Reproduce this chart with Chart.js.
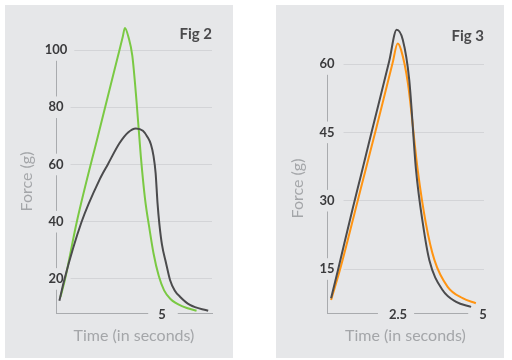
<!DOCTYPE html>
<html><head><meta charset="utf-8">
<script src="https://cdn.jsdelivr.net/npm/chart.js@4.4.1/dist/chart.umd.min.js"></script>
<style>
html,body{margin:0;padding:0;background:#fff;width:512px;height:360px;overflow:hidden;}
.panel{position:absolute;top:5px;width:228px;height:353px;background:#e6e7e9;}
#p1{left:5px}#p2{left:276px}
canvas{display:block;width:228px;height:353px;}
</style></head><body>
<div class="panel" id="p1"><canvas id="c1" width="228" height="353"></canvas></div>
<div class="panel" id="p2"><canvas id="c2" width="228" height="353"></canvas></div>
<script>
// ---- Fig 2 data ----
const fig2Title = 'Fig 2';
const fig2YTicks = [20, 40, 60, 80, 100];
const fig2XTicks = [5];
const fig2GreenTime  = [0.21, 0.42, 0.98, 2.0, 2.9, 3.15, 3.25, 3.42, 3.6, 3.8, 4.0, 4.2, 4.4, 4.6, 4.85, 5.1, 5.4, 6.0, 6.63];
const fig2GreenForce = [13.7, 19.7, 39.9, 70.6, 97.2, 104.6, 107.7, 104.5, 98, 82, 63, 48, 38, 29, 21, 16, 13, 10.3, 8.9];
const fig2DarkTime  = [0.16, 0.39, 1.2, 2.05, 2.45, 3.0, 3.4, 3.77, 4.1, 4.3, 4.48, 4.6, 4.7, 4.79, 4.88, 5.0, 5.19, 5.38, 5.6, 5.85, 6.32, 7.18];
const fig2DarkForce = [12.4, 19.65, 39.8, 54.6, 60.1, 67.5, 71.2, 72.6, 71.8, 69.8, 67, 63, 57, 46.5, 39, 32, 25.6, 19.65, 16, 13.8, 10.9, 8.9];

// ---- Fig 3 data ----
const fig3Title = 'Fig 3';
const fig3YTicks = [15, 30, 45, 60];
const fig3XTicks = [2.5, 5];
const fig3DarkTime  = [0.53, 0.73, 1.17, 1.41, 1.71, 2.24, 2.46, 2.64, 2.83, 3.03, 3.23, 3.42, 3.81, 4.21, 4.65];
const fig3DarkForce = [8.57, 14.7, 28.4, 35.6, 44.7, 60.6, 67.5, 65.3, 56.5, 36.7, 25.0, 17.0, 10.4, 7.8, 6.7];
const fig3OrangeTime  = [0.53, 0.82, 1.31, 1.56, 1.85, 2.34, 2.49, 2.59, 2.79, 3.08, 3.32, 3.57, 3.96, 4.40, 4.79];
const fig3OrangeForce = [8.2, 15.6, 29.9, 37.2, 45.6, 60.2, 64.5, 63.1, 55.8, 36.7, 25.0, 17.0, 11.1, 8.6, 7.5];

const xTitle = 'Time (in seconds)';
const yTitle = 'Force (g)';

const BG = '#e6e7e9';
const FONT = 'Lato';
const tickFont = {family: FONT, size: 13, weight: 'bold'};

function measure(strs, font) {
  const c = document.createElement('canvas').getContext('2d');
  c.font = 'bold ' + font.size + 'px ' + font.family;
  return Math.max(...strs.map(s => c.measureText(String(s)).width));
}
function pts(ts, fs) { return ts.map((t, i) => ({x: t, y: fs[i]})); }

function makeChart(id, cfg) {
  const widest = measure(cfg.yTicks, tickFont);
  return new Chart(document.getElementById(id), {
    type: 'line',
    data: {
      datasets: cfg.series.map(s => ({
        data: pts(s.t, s.f),
        borderColor: s.color,
        borderWidth: 2,
        pointRadius: 0,
        fill: false,
        clip: false,
        cubicInterpolationMode: 'monotone'
      }))
    },
    options: {
      responsive: false,
      animation: false,
      devicePixelRatio: 1,
      layout: {padding: {left: 0, right: cfg.padRight, top: 0, bottom: 0}},
      plugins: {
        legend: {display: false},
        tooltip: {enabled: false},
        title: {
          display: true, text: cfg.title, align: 'end', color: '#4a4a4c',
          font: {family: FONT, size: 15, weight: 'bold'},
          padding: {top: cfg.titleTop, bottom: cfg.titleBottom}
        }
      },
      scales: {
        x: {
          type: 'linear', min: cfg.xMin, max: cfg.xMax,
          grid: {display: false, drawTicks: false},
          border: {display: true, color: '#a9abae', width: 1},
          afterBuildTicks: s => { s.ticks = cfg.xTicks.map(v => ({value: v})); },
          afterFit: s => { s.height = 45; },
          ticks: {
            font: tickFont, color: '#3a3a3c', mirror: true, padding: -9.8,
            maxRotation: 0, autoSkip: false,
            showLabelBackdrop: true, backdropColor: BG,
            backdropPadding: cfg.xBackdrop
          },
          title: {
            display: true, text: xTitle, color: '#a4a6a9',
            font: {family: FONT, size: 16}, padding: {top: 0, bottom: 13}
          }
        },
        y: {
          type: 'linear', min: cfg.yMin, max: cfg.yMax,
          grid: {display: true, color: '#d3d4d7', lineWidth: 1, drawTicks: false},
          border: {display: true, color: '#a9abae', width: 1},
          afterBuildTicks: s => { s.ticks = cfg.yTicks.map(v => ({value: v})); },
          afterFit: s => { s.width = 51; },
          ticks: {
            font: tickFont, color: '#3a3a3c', mirror: true, crossAlign: 'center',
            padding: -widest / 2,
            showLabelBackdrop: true, backdropColor: BG,
            backdropPadding: cfg.yBackdrop
          },
          title: {
            display: true, text: yTitle, color: '#a4a6a9',
            font: {family: FONT, size: 16}, padding: {top: 12, bottom: 0}
          }
        }
      }
    }
  });
}

makeChart('c1', {
  title: fig2Title, titleTop: 20, titleBottom: 7, padRight: 21,
  xMin: 0, xMax: 7.36, yMin: 8.1, yMax: 100,
  xTicks: fig2XTicks, yTicks: fig2YTicks,
  xBackdrop: {left: 10, right: 12, top: 1, bottom: 1},
  yBackdrop: {left: 3, right: 7, top: 3, bottom: 3},
  series: [
    {t: fig2DarkTime, f: fig2DarkForce, color: '#4b4b4d'},
    {t: fig2GreenTime, f: fig2GreenForce, color: '#7ac943'}
  ]
});
makeChart('c2', {
  title: fig3Title, titleTop: 22, titleBottom: 19, padRight: 20,
  xMin: 0.41, xMax: 5.03, yMin: 5.35, yMax: 60,
  xTicks: fig3XTicks, yTicks: fig3YTicks,
  xBackdrop: {left: 11, right: 7, top: 1, bottom: 1},
  yBackdrop: {left: 3, right: 9, top: 3, bottom: 3},
  series: [
    {t: fig3DarkTime, f: fig3DarkForce, color: '#4b4b4d'},
    {t: fig3OrangeTime, f: fig3OrangeForce, color: '#ff9412'}
  ]
});
</script>
</body></html>
